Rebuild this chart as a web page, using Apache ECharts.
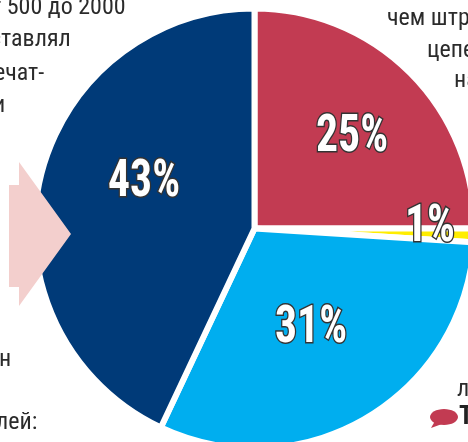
<!DOCTYPE html>
<html>
<head>
<meta charset="utf-8">
<style>
  html, body { margin: 0; padding: 0; background: #fff; overflow: hidden; }
  #chart { width: 468px; height: 442px; }
</style>
<script src="https://cdn.jsdelivr.net/npm/echarts@6/dist/echarts.min.js"></script>
</head>
<body>
<div id="chart"></div>
<script>
const categories = ['red', 'yellow', 'blue', 'navy']
const shareValues = [25, 1, 31, 43]
const sliceColors = ['#c23b52', '#ffed00', '#00aeef', '#003a78']
const cutText = [
  ['т 500 до 2000', -9, 8],
  ['ставлял', -10, 40],
  ['ечат-', -6, 74],
  ['и', -7, 106],
  ['н', -1, 360],
  ['лей:', -4, 423],
  ['чем штр', 387, 19],
  ['цепе', 427, 51],
  ['на', 454, 81],
  ['л', 457, 390]
]
const labelSpots = [[352, 138], [430, 228], [311, 329], [144, 183]]

const FONT = '"Roboto Condensed", sans-serif'

const chart = echarts.init(document.getElementById('chart'), '', { renderer: 'canvas' })

chart.setOption({
  animation: false,
  backgroundColor: '#fff',
  series: [{
    type: 'pie',
    silent: true,
    center: [254.5, 228.5],
    radius: [0, 220],
    startAngle: 90,
    clockwise: true,
    itemStyle: { borderColor: '#fff', borderWidth: 6 },
    labelLine: { show: false },
    label: { show: false },
    data: categories.map((name, i) => ({
      name,
      value: shareValues[i],
      itemStyle: { color: sliceColors[i] }
    }))
  }],
  graphic: [
    {
      type: 'polygon',
      z: 5,
      shape: { points: [[9, 185], [19, 185], [19, 162], [71, 234], [19, 306], [19, 287], [9, 287]] },
      style: { fill: '#f3cfcd' }
    },
    // облачко: тело и хвостик
    {
      type: 'ellipse',
      z: 5,
      shape: { cx: 444, cy: 417, rx: 14, ry: 8 },
      style: { fill: '#c23b52' }
    },
    {
      type: 'polygon',
      z: 5,
      shape: { points: [[435, 421], [442, 424], [431, 428]] },
      style: { fill: '#c23b52' }
    },
    {
      type: 'text',
      z: 5,
      style: { x: 459, y: 417, text: 'Т', fontFamily: FONT, fontWeight: 'bold', fontSize: 26, fill: '#222', verticalAlign: 'middle' }
    }
  ].concat(cutText.map(([text, x, y]) => ({
    type: 'text',
    z: 5,
    style: { x, y, text, fontFamily: FONT, fontWeight: 400, fontSize: 24, fill: '#2b2b2b', verticalAlign: 'middle' }
  }))).concat(labelSpots.map((spot, i) => ({
    type: 'text',
    z: 6,
    x: spot[0],
    y: spot[1],
    scaleX: 0.84,
    style: {
      text: shareValues[i] + '%',
      fontFamily: FONT,
      fontWeight: 'bold',
      fontSize: 52,
      fill: '#fff',
      stroke: '#333',
      lineWidth: 3,
      strokeFirst: true,
      align: 'center',
      verticalAlign: 'middle'
    }
  })))
})
</script>
</body>
</html>
